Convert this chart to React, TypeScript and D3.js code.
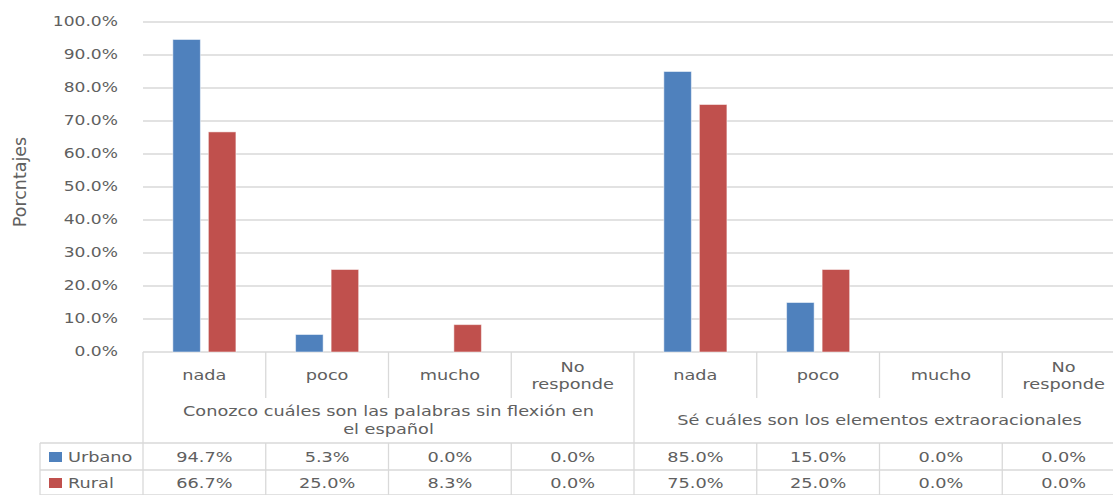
import * as d3 from 'd3';

// Data
const categories = ['nada', 'poco', 'mucho', 'No responde', 'nada', 'poco', 'mucho', 'No responde'];
const groupLabels = [
  ['Conozco cuáles son las palabras sin flexión en', 'el español'],
  ['Sé cuáles son los elementos extraoracionales'],
];
const seriesNames = ['Urbano', 'Rural'];
const urbano = [94.7, 5.3, 0.0, 0.0, 85.0, 15.0, 0.0, 0.0];
const rural = [66.7, 25.0, 8.3, 0.0, 75.0, 25.0, 0.0, 0.0];
const yTicks = [0, 10, 20, 30, 40, 50, 60, 70, 80, 90, 100];

const colors = ['#4f81bd', '#c0504d'];
const textColor = '#606060';
const gridColor = '#d9d9d9';
const font = '"DejaVu Sans", sans-serif';
const sx = 1.24; // the reference text looks stretched sideways

function T({ x, y, children, size = 14.3, anchor = 'middle' }: any) {
  return (
    <text
      transform={`translate(${x},${y}) scale(${sx},1)`}
      textAnchor={anchor}
      dominantBaseline="central"
      fontSize={size}
      fontFamily={font}
      fill={textColor}
    >
      {children}
    </text>
  );
}

export default function App() {
  const width = 1113;
  const height = 495;
  const left = 143;
  const right = 1125;
  const top = 22;
  const bottom = 352;

  const idx = categories.map((_, i) => i);
  const x = d3.scaleBand<number>().domain(idx).range([left, right]).paddingInner(0).paddingOuter(0);
  const xs = d3.scaleBand<number>().domain([0, 1]).range([0, x.bandwidth()]).paddingInner(0.225).paddingOuter(0.84);
  const y = d3.scaleLinear().domain([0, 100]).range([bottom, top]);
  const series = [urbano, rural];

  const catRowBottom = 398;
  const groupRowBottom = 443;
  const row1Bottom = 470;
  const row2Bottom = 497;
  const legendLeft = 40;

  const boundaries = idx.map((i) => x(i) as number).concat([right]);

  return (
    <svg width={width} height={height} style={{ position: 'absolute', left: 0, top: 0 }}>
      <rect width={width} height={height} fill="#fff" />
      {/* gridlines */}
      {yTicks.map((t) => (
        <line key={t} x1={left} x2={right} y1={y(t)} y2={y(t)} stroke={gridColor} strokeWidth={1.3} />
      ))}
      {/* y tick labels */}
      {yTicks.map((t) => (
        <T key={t} x={118} y={y(t)} anchor="end" size={13.8}>
          {d3.format('.1f')(t) + '%'}
        </T>
      ))}
      <text
        transform={`translate(20,182) rotate(-90)`}
        textAnchor="middle"
        dominantBaseline="central"
        fontSize={17.5}
        fontFamily={font}
        fill={textColor}
      >
        Porcntajes
      </text>
      {/* bars */}
      {series.map((vals, s) =>
        vals.map((v, i) =>
          v > 0 ? (
            <rect
              key={`${s}-${i}`}
              x={(x(i) as number) + (xs(s) as number)}
              y={y(v)}
              width={xs.bandwidth()}
              height={y(0) - y(v)}
              fill={colors[s]}
              stroke="#ffffff"
              strokeOpacity={0.5}
              strokeWidth={1}
            />
          ) : null
        )
      )}
      {/* table lines */}
      {boundaries.map((bx, i) => {
        const full = i % 4 === 0;
        return (
          <g key={i}>
            <line x1={bx} x2={bx} y1={bottom} y2={full ? row2Bottom : catRowBottom} stroke={gridColor} strokeWidth={1.3} />
            {!full && <line x1={bx} x2={bx} y1={groupRowBottom} y2={row2Bottom} stroke={gridColor} strokeWidth={1.3} />}
          </g>
        );
      })}
      <line x1={legendLeft} x2={right} y1={groupRowBottom} y2={groupRowBottom} stroke={gridColor} strokeWidth={1.3} />
      <line x1={legendLeft} x2={right} y1={row1Bottom} y2={row1Bottom} stroke={gridColor} strokeWidth={1.3} />
      <line x1={legendLeft} x2={right} y1={row2Bottom - 2} y2={row2Bottom - 2} stroke={gridColor} strokeWidth={1.3} />
      <line x1={legendLeft} x2={legendLeft} y1={groupRowBottom} y2={row2Bottom} stroke={gridColor} strokeWidth={1.3} />
      {/* category labels */}
      {categories.map((c, i) => {
        const cx = (x(i) as number) + x.bandwidth() / 2;
        const words = c.split(' ');
        return words.length > 1 ? (
          <g key={i}>
            <T x={cx} y={367}>{words[0]}</T>
            <T x={cx} y={384}>{words[1]}</T>
          </g>
        ) : (
          <T key={i} x={cx} y={375}>{c}</T>
        );
      })}
      {/* group labels */}
      {groupLabels.map((lines, g) => {
        const gx = ((x(g * 4) as number) + (g === 0 ? (x(4) as number) : right)) / 2;
        const y0 = lines.length > 1 ? 411 : 420;
        return lines.map((l, k) => (
          <T key={`${g}-${k}`} x={gx} y={y0 + k * 18}>{l}</T>
        ));
      })}
      {/* data table */}
      {series.map((vals, s) => {
        const ry = s === 0 ? 457 : 483;
        return (
          <g key={s}>
            <rect x={49} y={ry - 5} width={13} height={10} fill={colors[s]} />
            <T x={68} y={ry} anchor="start">{seriesNames[s]}</T>
            {vals.map((v, i) => (
              <T key={i} x={(x(i) as number) + x.bandwidth() / 2} y={ry}>
                {d3.format('.1f')(v) + '%'}
              </T>
            ))}
          </g>
        );
      })}
    </svg>
  );
}
